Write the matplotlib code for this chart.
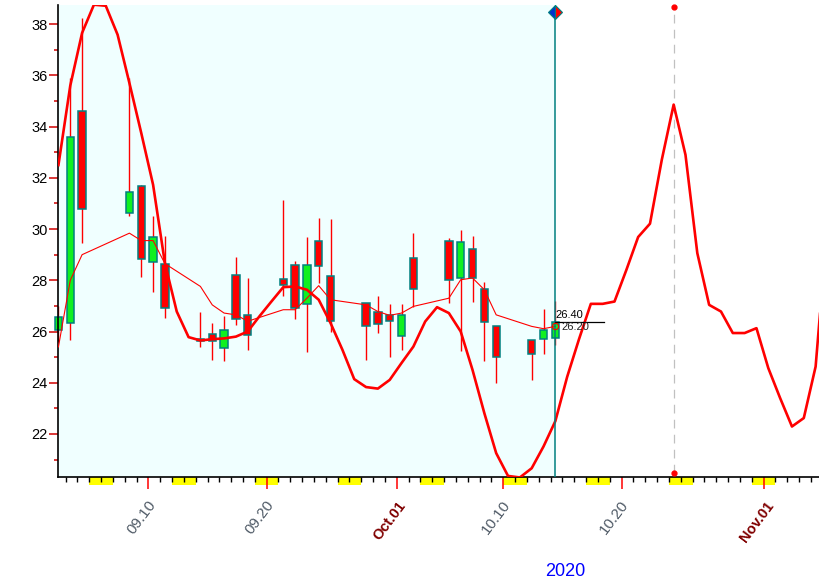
import numpy as np
import pandas as pd
import matplotlib
matplotlib.use("Agg")
import matplotlib.pyplot as plt
import matplotlib.transforms as mtransforms
from matplotlib.patches import Rectangle

plt.rcParams['font.family'] = ['Liberation Sans', 'DejaVu Sans']

# ---- DATA ----
trade_dates = ["2020-09-02", "2020-09-03", "2020-09-04", "2020-09-08", "2020-09-09",
               "2020-09-10", "2020-09-11", "2020-09-14", "2020-09-15", "2020-09-16",
               "2020-09-17", "2020-09-18", "2020-09-21", "2020-09-22", "2020-09-23",
               "2020-09-24", "2020-09-25", "2020-09-28", "2020-09-29", "2020-09-30",
               "2020-10-01", "2020-10-02", "2020-10-05", "2020-10-06", "2020-10-07",
               "2020-10-08", "2020-10-09", "2020-10-12", "2020-10-13", "2020-10-14"]
opens = [26.04, 26.33, 34.60, 30.63, 31.68, 28.71, 28.63, 25.72, 25.90, 25.35,
         28.20, 26.64, 28.05, 28.58, 27.07, 29.53, 28.15, 27.13, 26.78, 26.66,
         25.83, 28.87, 29.52, 28.09, 29.24, 27.66, 26.20, 25.65, 25.70, 25.74]
highs = [27.00, 35.90, 38.24, 35.90, 31.73, 30.50, 29.71, 26.78, 26.35, 26.59,
         28.89, 28.07, 31.14, 28.76, 29.69, 30.43, 30.39, 27.13, 27.39, 27.07,
         27.07, 29.84, 29.65, 29.97, 29.74, 27.95, 26.20, 25.65, 26.88, 27.21]
lows = [25.60, 25.65, 29.45, 30.50, 28.13, 27.56, 26.52, 25.38, 24.90, 24.83,
        26.26, 25.26, 27.37, 26.48, 25.20, 27.91, 26.00, 24.87, 25.96, 25.02,
        25.29, 26.95, 27.11, 25.22, 27.17, 24.85, 24.00, 24.11, 25.13, 25.48]
closes = [26.56, 33.60, 30.78, 31.44, 28.83, 29.69, 26.91, 25.62, 25.64, 26.05,
          26.48, 25.87, 27.80, 26.91, 28.58, 28.55, 26.41, 26.22, 26.30, 26.41,
          26.66, 27.66, 28.02, 29.48, 28.09, 26.39, 25.02, 25.12, 26.07, 26.39]
ma_values = [25.40, 28.00, 29.00, 29.84, 29.55, 29.55, 28.65, 27.76, 27.04, 26.72,
             26.65, 26.40, 26.85, 26.85, 27.30, 27.79, 27.24, 27.04, 26.78, 26.63,
             26.72, 26.98, 27.30, 28.02, 28.09, 27.63, 26.65, 26.20, 26.11, 26.20]

# cycle curve, one value per calendar day from Sep 2
cycle_start = "2020-09-02"
cycle_values = [32.50, 35.60, 37.66, 38.76, 38.72, 37.59, 35.70, 33.75, 31.73, 28.67,
                26.78, 25.78, 25.65, 25.70, 25.73, 25.80, 26.00, 26.60, 27.17, 27.73,
                27.76, 27.63, 27.24, 26.33, 25.29, 24.14, 23.83, 23.77, 24.11, 24.77,
                25.41, 26.39, 26.95, 26.72, 26.00, 24.50, 22.81, 21.25, 20.36, 20.30,
                20.66, 21.51, 22.50, 24.23, 25.70, 27.08, 27.08, 27.17, 28.40, 29.69,
                30.21, 32.71, 34.86, 32.90, 29.06, 27.04, 26.78, 25.94, 25.94, 26.13,
                24.57, 23.40, 22.29, 22.62, 24.63, 30.20]

tick_dates = ["2020-09-10", "2020-09-20", "2020-10-01", "2020-10-10", "2020-10-20", "2020-11-01"]
tick_labels = ["09.10", "09.20", "Oct.01", "10.10", "10.20", "Nov.01"]
weekend_starts = ["2020-09-05", "2020-09-12", "2020-09-19", "2020-09-26", "2020-10-03",
                  "2020-10-10", "2020-10-17", "2020-10-24", "2020-10-31"]
last_close_label = "26.40"
last_ma_label = "26.20"
marker_date = "2020-10-24"
year_label = "2020"

# ---- day numbers (Sep 1 = 0), bars sit a bit after midnight ----
base = pd.Timestamp("2020-09-01")
def day_num(s):
    return (pd.to_datetime(s) - base).days

OFF = 0.4
xt = np.array([day_num(d) for d in trade_dates]) + OFF
o, h, l, c = map(np.array, (opens, highs, lows, closes))
xc = day_num(cycle_start) + OFF + np.arange(len(cycle_values))
xticks = [day_num(d) for d in tick_dates]
xlast = xt[-1]
xmark = day_num(marker_date) + OFF

# ---- FIGURE ----
fig = plt.figure(figsize=(8.2, 5.8), dpi=100)
ax = fig.add_axes([0.0704, 0.1781, 0.9296, 0.8133])
ax.set_xlim(1.34, 65.77)
ax.set_ylim(20.33, 38.75)

ax.axvspan(1.34, xlast, color='#F0FFFF', zorder=0, lw=0)

# candles
up = c >= o
ax.vlines(xt, l, h, color='#FF0000', lw=1.0, zorder=1.8)
bars = ax.bar(xt, c - o, bottom=o, width=0.62,
              color=np.where(up, '#10F020', '#FF0000'),
              edgecolor='#008080', linewidth=1.1, zorder=2)
for b in bars:
    b.set_clip_on(False)

ax.plot(xt, ma_values, color='#FF0000', lw=0.8, zorder=3)
ax.plot(xc, cycle_values, color='#FF0000', lw=1.9, zorder=3.2)

# today line and marker
bt = mtransforms.blended_transform_factory(ax.transData, ax.transAxes)
ax.plot([xlast, xlast], [0, 0.986], color='#008080', lw=1.1, transform=bt, zorder=4)
ax.plot([xlast], [0.986], marker='D', markersize=7, fillstyle='left',
        markerfacecolor='#0033CC', markerfacecoloralt='#FF0000',
        markeredgecolor='#008080', markeredgewidth=0.8, transform=bt,
        clip_on=False, zorder=5)

# projected turn line
ax.plot([xmark, xmark], [0.0085, 0.995], color='#C0C0C0', lw=0.9,
        dashes=(7, 5), transform=bt, zorder=1.5)
ax.plot([xmark, xmark], [0.0085, 0.995], linestyle='none', marker='o',
        markersize=3.5, color='#FF0000', transform=bt, clip_on=False, zorder=5)

# last value labels
ax.plot([xlast, xlast + 4.1], [closes[-1], closes[-1]], color='black', lw=0.9, zorder=4)
ax.plot([xlast], [ma_values[-1]], marker='o', markersize=4.5, markerfacecolor='none',
        markeredgecolor='#FF0000', markeredgewidth=0.8, zorder=5)
ax.text(xlast, closes[-1] + 0.05, last_close_label, fontsize=8, color='black',
        ha='left', va='bottom', zorder=5)
ax.text(xlast + 0.5, closes[-1] - 0.03, last_ma_label, fontsize=8, color='#222222',
        ha='left', va='top', zorder=5)

# weekend marks under the axis
for w in weekend_starts:
    ax.add_patch(Rectangle((day_num(w), 0), 2, -0.017, transform=bt,
                           facecolor='#FFFF00', edgecolor='none',
                           clip_on=False, zorder=1))

# axes styling
for s in ('top', 'right'):
    ax.spines[s].set_visible(False)
for s in ('left', 'bottom'):
    ax.spines[s].set_color('black')
    ax.spines[s].set_linewidth(1.2)

ax.set_yticks(np.arange(22, 39, 2))
ax.set_yticks(np.arange(21, 39, 2), minor=True)
ax.tick_params(axis='y', which='major', length=6.5, width=1.1, color='#D00000',
               labelsize=10.5, labelcolor='black', pad=0.8)
ax.tick_params(axis='y', which='minor', length=3, width=1.1, color='#D00000')

ax.set_xticks(xticks)
ax.set_xticks(np.arange(2, 66, 1), minor=True)
ax.set_xticklabels(tick_labels)
ax.tick_params(axis='x', which='major', length=8.6, width=1.1, color='#FF0000', pad=7)
ax.tick_params(axis='x', which='minor', length=3.6, width=1.0, color='black')

shift = mtransforms.ScaledTranslation(-5 / 72, 0, fig.dpi_scale_trans)
for lbl in ax.get_xticklabels():
    txt = lbl.get_text()
    lbl.set_rotation(53)
    lbl.set_ha('center')
    lbl.set_transform(lbl.get_transform() + shift)
    if txt[0].isalpha():
        lbl.set_color('#800000')
        lbl.set_fontweight('bold')
        lbl.set_fontsize(10.5)
    else:
        lbl.set_color('#4F5A66')
        lbl.set_fontsize(11)

fig.text(565 / 820, 1 - 571 / 580, year_label, color='#0000FF', fontsize=13,
         ha='center', va='center')

fig.savefig('out.png', dpi=100)
